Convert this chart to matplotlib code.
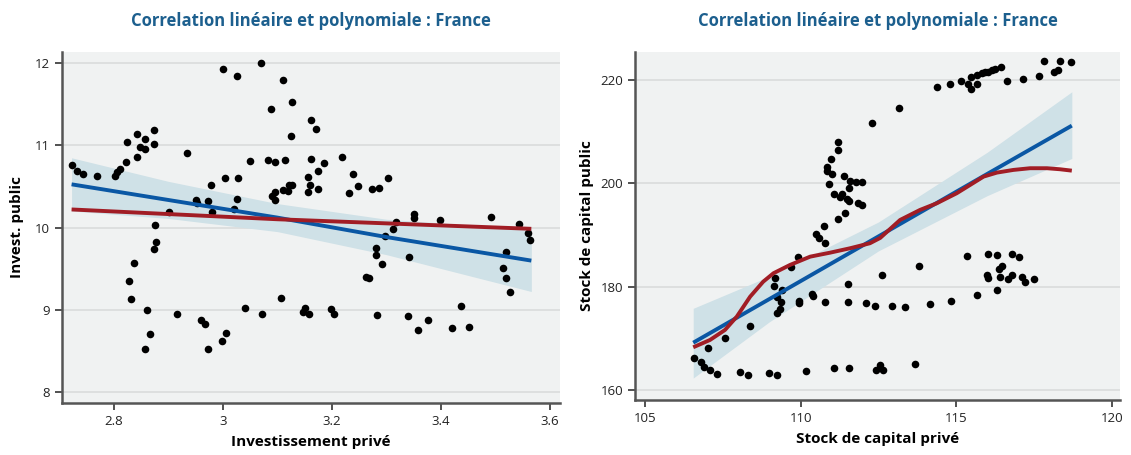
import numpy as np
import matplotlib
matplotlib.use('Agg')
import matplotlib.pyplot as plt

# --- left panel : Investissement privé vs Invest. public ---
inv_prive = [2.724, 2.732, 2.743, 2.770, 2.802, 2.806, 2.811, 2.822, 2.842, 2.824,
             2.843, 2.857, 2.848, 2.858, 2.874, 2.873, 2.876, 2.902, 2.935, 2.951,
             2.952, 2.973, 2.980, 2.979, 3.003, 3.027, 3.025, 3.021, 3.001, 3.025,
             3.070, 3.049, 3.083, 3.095, 3.113, 3.089, 3.111, 3.126, 3.124, 3.090,
             3.096, 3.095, 3.111, 3.121, 3.126, 3.120, 3.161, 3.170, 3.161, 3.186,
             3.218, 3.175, 3.156, 3.238, 3.303, 3.248, 3.231, 3.273, 3.287, 3.160,
             3.174, 3.156, 3.318, 3.311, 3.298, 3.351, 3.351, 3.398, 3.491, 3.542,
             3.560, 3.563, 3.281, 3.281, 3.292, 3.341, 3.263, 3.267, 3.519, 3.514,
             3.519, 3.527, 3.199, 3.204, 3.283, 3.340, 3.376, 3.358, 3.420, 3.451,
             3.437, 2.877, 2.873, 2.837, 2.828, 2.832, 2.861, 2.866, 2.857, 2.915,
             2.959, 2.968, 2.972, 3.006, 2.998, 3.041, 3.071, 3.107, 3.150, 3.147,
             3.157]
inv_public = [10.754, 10.685, 10.645, 10.624, 10.624, 10.673, 10.714, 10.793, 10.859, 11.035,
              11.140, 11.076, 10.979, 10.955, 11.180, 11.019, 10.033, 10.190, 10.899, 10.331,
              10.303, 10.327, 10.190, 10.520, 10.600, 10.600, 10.343, 10.219, 11.925, 11.841,
              11.994, 10.806, 10.822, 10.793, 10.818, 11.434, 11.796, 11.527, 11.107, 10.383,
              10.431, 10.331, 10.452, 10.516, 10.512, 10.443, 11.309, 11.197, 10.835, 10.781,
              10.854, 10.681, 10.612, 10.653, 10.600, 10.504, 10.415, 10.464, 10.480, 10.512,
              10.464, 10.436, 10.062, 9.977, 9.900, 10.158, 10.114, 10.093, 10.129, 10.037,
              9.936, 9.848, 9.751, 9.670, 9.554, 9.646, 9.405, 9.385, 9.699, 9.513,
              9.389, 9.216, 9.006, 8.946, 8.934, 8.921, 8.873, 8.761, 8.781, 8.789,
              9.042, 9.827, 9.739, 9.574, 9.349, 9.132, 9.002, 8.713, 8.528, 8.950,
              8.873, 8.833, 8.531, 8.725, 8.620, 9.023, 8.946, 9.139, 9.027, 8.975,
              8.946]

# linear fit, its confidence band and the polynomial fit, as read on the chart
lin1_x = [2.7226, 2.9, 3.1, 3.3, 3.5655]
lin1_y = [10.524, 10.334, 10.120, 9.884, 9.598]
lin1_lo = [10.200, 10.110, 9.950, 9.670, 9.223]
lin1_hi = [10.846, 10.560, 10.290, 10.100, 9.980]
poly1_x = [2.7226, 3.1, 3.5655]
poly1_y = [10.219, 10.100, 9.984]

# --- right panel : Stock de capital privé vs Stock de capital public ---
stock_prive = [112.31, 111.21, 111.21, 110.97, 110.84, 110.85, 111.01, 110.92, 111.39, 111.60,
               111.77, 111.97, 111.56, 111.08, 111.33, 111.26, 111.50, 111.57, 111.85, 111.99,
               111.43, 111.20, 110.75, 110.49, 110.60, 110.80, 109.93, 109.68, 109.19, 109.16,
               109.41, 109.23, 109.36, 109.34, 109.23, 109.96, 109.95, 110.36, 110.40, 110.79,
               111.53, 111.54, 112.12, 112.40, 112.62, 108.37, 107.57, 107.04, 106.59, 106.81,
               106.91, 107.09, 107.32, 108.06, 108.31, 108.99, 109.24, 110.17, 111.09, 111.55,
               112.41, 112.56, 112.66, 113.69, 113.81, 115.36, 116.02, 116.30, 116.80, 117.02,
               116.47, 116.39, 115.99, 116.02, 116.42, 116.68, 116.79, 117.13, 117.23, 117.50,
               116.31, 115.67, 114.83, 114.16, 113.36, 112.93, 113.18, 114.40, 114.80, 115.15,
               115.38, 115.48, 115.48, 115.68, 115.68, 115.83, 115.93, 116.04, 116.15, 116.25,
               116.45, 116.65, 117.16, 117.66, 117.81, 118.16, 118.26, 118.34, 118.68]
stock_public = [211.67, 208.06, 206.39, 204.65, 203.16, 202.38, 201.75, 199.87, 201.48, 200.45,
                200.31, 200.20, 199.09, 197.93, 197.99, 197.29, 196.97, 196.52, 196.25, 195.86,
                194.26, 193.15, 191.68, 190.25, 189.42, 188.51, 185.80, 183.86, 181.73, 180.19,
                179.35, 177.94, 177.03, 175.73, 174.84, 177.22, 176.84, 178.52, 178.25, 177.03,
                180.57, 177.03, 176.78, 176.20, 182.26, 172.44, 170.12, 168.13, 166.25, 165.36,
                164.45, 163.81, 163.10, 163.43, 162.96, 163.23, 162.96, 163.62, 164.26, 164.26,
                163.87, 164.84, 163.81, 165.09, 183.94, 185.93, 186.38, 186.19, 186.26, 185.68,
                184.00, 183.36, 182.20, 181.62, 181.87, 181.54, 182.20, 181.81, 180.96, 181.54,
                179.35, 178.33, 177.28, 176.70, 176.06, 176.20, 214.58, 218.64, 219.28, 219.86,
                219.28, 220.52, 218.20, 219.16, 220.91, 221.29, 221.49, 221.60, 221.93, 222.18,
                222.51, 219.80, 220.19, 220.71, 223.62, 221.49, 221.93, 223.73, 223.42]

lin2_x = [106.55, 109.0, 112.5, 116.0, 118.72]
lin2_y = [169.15, 177.60, 189.70, 201.80, 211.15]
lin2_lo = [162.3, 173.2, 186.9, 197.6, 204.8]
lin2_hi = [175.8, 182.0, 192.5, 206.0, 217.7]
poly2_x = [106.55, 107.09, 107.57, 107.95, 108.38, 108.80, 109.13, 109.66, 110.31, 110.95,
           111.59, 112.23, 112.56, 113.20, 113.84, 114.38, 115.02, 115.45, 115.88, 116.31,
           116.84, 117.38, 117.92, 118.34, 118.72]
poly2_y = [168.26, 169.68, 171.61, 174.19, 178.06, 180.96, 182.59, 184.19, 185.80, 186.57,
           187.42, 188.39, 189.42, 192.90, 194.84, 196.13, 198.07, 199.67, 201.28, 202.06,
           202.58, 202.91, 202.91, 202.71, 202.44]

TITLE = "Correlation linéaire et polynomiale : France"
BG = "#f0f2f2"
BLUE = "#0a57a4"
RED = "#a11d25"
BAND = "#cfe1e7"
TITLE_COL = "#1c5f8e"

plt.rcParams['font.family'] = ['Open Sans', 'DejaVu Sans']

fig = plt.figure(figsize=(11.31, 4.55), dpi=100)
ax1 = fig.add_axes([0.0548, 0.1143, 0.4403, 0.7714])
ax2 = fig.add_axes([0.5615, 0.1209, 0.4288, 0.7648])


def style(ax):
    ax.set_facecolor(BG)
    ax.grid(axis='y', color='#dadcdc', lw=1.2)
    ax.set_axisbelow(True)
    for s in ('top', 'right'):
        ax.spines[s].set_visible(False)
    for s in ('left', 'bottom'):
        ax.spines[s].set_color('#555555')
        ax.spines[s].set_linewidth(1.8)
    ax.tick_params(direction='out', length=5, width=1.2, color='#333333',
                   labelsize=9.5, labelcolor='#222222')
    ax.set_title(TITLE, color=TITLE_COL, fontsize=12, fontweight='bold', pad=19)


def draw(ax, x, y, lx, ly, llo, lhi, px, py):
    ax.fill_between(lx, llo, lhi, color=BAND, lw=0, zorder=1)
    ax.scatter(x, y, s=30, color='black', lw=0, zorder=2)
    ax.plot(lx, ly, color=BLUE, lw=2.8, zorder=3, solid_capstyle='butt')
    ax.plot(px, py, color=RED, lw=2.8, zorder=4, solid_capstyle='butt')


style(ax1)
draw(ax1, inv_prive, inv_public, lin1_x, lin1_y, lin1_lo, lin1_hi, poly1_x, poly1_y)
ax1.set_xlim(2.705, 3.618)
ax1.set_ylim(7.87, 12.13)
ax1.set_xticks([2.8, 3.0, 3.2, 3.4, 3.6])
ax1.set_xticklabels(["2.8", "3", "3.2", "3.4", "3.6"])
ax1.set_yticks([8, 9, 10, 11, 12])
ax1.set_xlabel("Investissement privé", fontsize=11, fontweight='bold', labelpad=5)
ax1.set_ylabel("Invest. public", fontsize=11, fontweight='bold', labelpad=8)

style(ax2)
draw(ax2, stock_prive, stock_public, lin2_x, lin2_y, lin2_lo, lin2_hi, poly2_x, poly2_y)
ax2.set_xlim(104.68, 120.27)
ax2.set_ylim(158.06, 225.4)
ax2.set_xticks([105, 110, 115, 120])
ax2.set_yticks([160, 180, 200, 220])
ax2.set_xlabel("Stock de capital privé", fontsize=11, fontweight='bold', labelpad=5)
ax2.set_ylabel("Stock de capital public", fontsize=11, fontweight='bold', labelpad=5)

fig.savefig("out.png", dpi=100)
